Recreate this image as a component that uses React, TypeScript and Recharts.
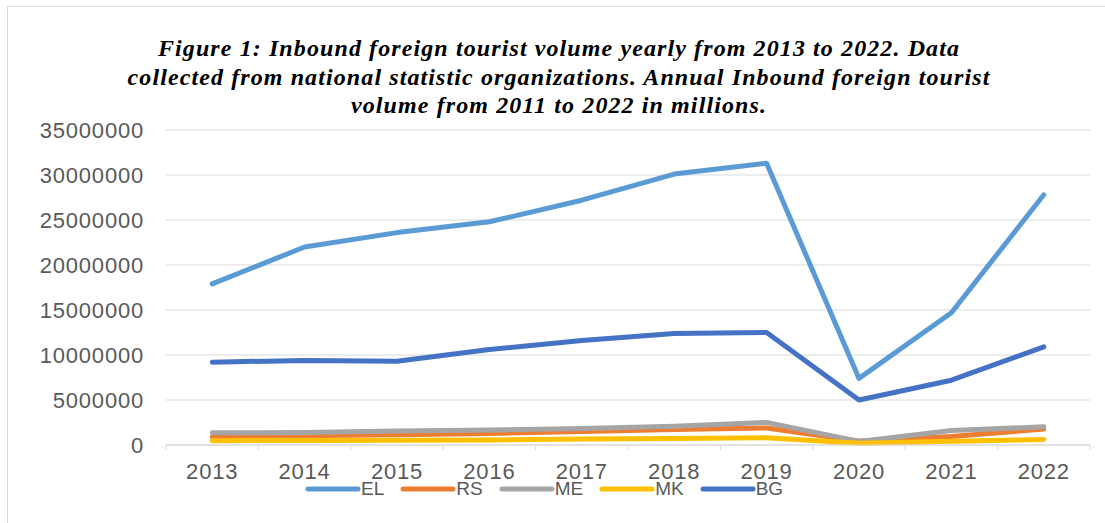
import { LineChart, Line, XAxis, YAxis, CartesianGrid } from "recharts";

const years = ["2013", "2014", "2015", "2016", "2017", "2018", "2019", "2020", "2021", "2022"];

const el = [17900000, 22000000, 23600000, 24800000, 27200000, 30100000, 31300000, 7400000, 14700000, 27800000];
const rs = [920000, 1030000, 1130000, 1280000, 1500000, 1710000, 1900000, 450000, 950000, 1770000];
const me = [1350000, 1380000, 1560000, 1660000, 1840000, 2080000, 2510000, 400000, 1600000, 2020000];
const mk = [480000, 500000, 540000, 560000, 660000, 730000, 800000, 200000, 420000, 620000];
const bg = [9200000, 9400000, 9300000, 10600000, 11600000, 12400000, 12500000, 5000000, 7200000, 10900000];

const yTicks = [0, 5000000, 10000000, 15000000, 20000000, 25000000, 30000000, 35000000];

const seriesList = [
  { key: "EL", values: el, color: "#5B9BD5" },
  { key: "RS", values: rs, color: "#ED7D31" },
  { key: "ME", values: me, color: "#A5A5A5" },
  { key: "MK", values: mk, color: "#FFC000" },
  { key: "BG", values: bg, color: "#4472C4" },
];

const data = years.map((year, i) => {
  const row: Record<string, number | string> = { i, year };
  seriesList.forEach((s) => {
    row[s.key] = s.values[i];
  });
  return row;
});

// labels at category centres, tick marks between categories (Excel style)
const xTicks = years.flatMap((_, i) => [i - 0.5, i]).concat(years.length - 0.5);

const AXIS_FONT = "'Liberation Sans', Arial, sans-serif";
const TICK_SIZE = 6;
const X_TICK_MARGIN = 12;

function YearTick(props: any) {
  const { x, y, payload } = props;
  const v = payload.value as number;
  if (Number.isInteger(v)) {
    return (
      <text
        x={x}
        y={y}
        dy="0.71em"
        textAnchor="middle"
        fill="#595959"
        fontSize={22}
        letterSpacing={0.8}
        fontFamily={AXIS_FONT}
      >
        {years[v]}
      </text>
    );
  }
  const base = y - TICK_SIZE - X_TICK_MARGIN;
  return <line x1={x} x2={x} y1={base} y2={base + 5} stroke="#d9d9d9" strokeWidth={1} />;
}

export default function App() {
  return (
    <div
      style={{
        position: "fixed",
        left: 0,
        top: 0,
        width: 1105,
        height: 523,
        overflow: "hidden",
        background: "#fff",
      }}
    >
      <div
        style={{
          position: "absolute",
          left: 7,
          top: 6,
          width: 1120,
          height: 520,
          border: "1px solid #d9d9d9",
          boxSizing: "border-box",
        }}
      />
      <div
        style={{
          position: "absolute",
          left: 0,
          top: 34,
          width: 1118,
          textAlign: "center",
          fontFamily: "'Liberation Serif', 'Times New Roman', serif",
          fontWeight: "bold",
          fontStyle: "italic",
          fontSize: 24,
          letterSpacing: 1.1,
          lineHeight: "28.5px",
          color: "#000",
          whiteSpace: "nowrap",
        }}
      >
        Figure 1: Inbound foreign tourist volume yearly from 2013 to 2022. Data
        <br />
        collected from national statistic organizations. Annual Inbound foreign tourist
        <br />
        volume from 2011 to 2022 in millions.
      </div>
      <div style={{ position: "absolute", left: 0, top: 0 }}>
        <LineChart
          width={1105}
          height={523}
          data={data}
          margin={{ top: 130, right: 15, bottom: 18, left: 0 }}
        >
          <CartesianGrid horizontal vertical={false} stroke="#d9d9d9" />
          <XAxis
            dataKey="i"
            type="number"
            domain={[-0.5, years.length - 0.5]}
            ticks={xTicks}
            interval={0}
            tick={<YearTick />}
            tickLine={false}
            tickSize={TICK_SIZE}
            tickMargin={X_TICK_MARGIN}
            axisLine={{ stroke: "#d9d9d9" }}
            height={60}
          />
          <YAxis
            domain={[0, 35000000]}
            ticks={yTicks}
            interval={0}
            axisLine={false}
            tickLine={false}
            tickSize={TICK_SIZE}
            tickMargin={16}
            width={166}
            tick={{ fill: "#595959", fontSize: 22, fontFamily: AXIS_FONT, letterSpacing: 0.8 }}
          />
          {seriesList.map((s) => (
            <Line
              key={s.key}
              type="linear"
              dataKey={s.key}
              stroke={s.color}
              strokeWidth={5}
              strokeLinecap="round"
              strokeLinejoin="round"
              dot={false}
              activeDot={false}
              isAnimationActive={false}
            />
          ))}
        </LineChart>
      </div>
      <div
        style={{
          position: "absolute",
          left: 305,
          top: 477,
          display: "flex",
          alignItems: "center",
          fontFamily: AXIS_FONT,
          fontSize: 19,
          color: "#595959",
          lineHeight: "24px",
        }}
      >
        {seriesList.map((s) => (
          <div key={s.key} style={{ display: "flex", alignItems: "center", marginRight: 16 }}>
            <svg width={56} height={10} style={{ display: "block" }}>
              <line x1={3} x2={53} y1={5} y2={5} stroke={s.color} strokeWidth={5} strokeLinecap="round" />
            </svg>
            <span>{s.key}</span>
          </div>
        ))}
      </div>
    </div>
  );
}
